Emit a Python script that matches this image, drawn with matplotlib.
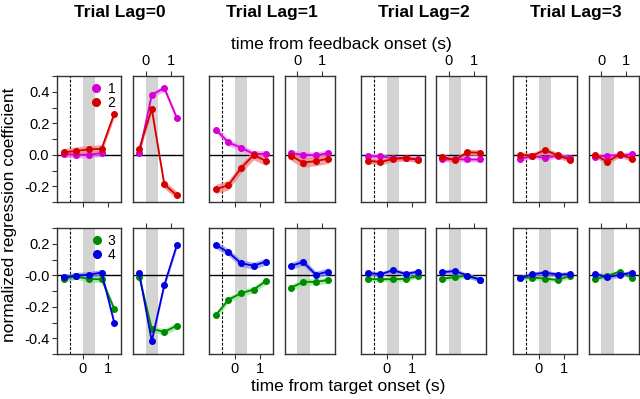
import numpy as np
import matplotlib
matplotlib.use("Agg")
import matplotlib.pyplot as plt
from matplotlib.lines import Line2D

plt.rcParams['font.family'] = ['Liberation Sans', 'DejaVu Sans']
plt.rcParams['axes.unicode_minus'] = False

nan = np.nan
lags = ["Trial Lag=0", "Trial Lag=1", "Trial Lag=2", "Trial Lag=3"]
t_target = [-0.75, -0.25, 0.25, 0.75, 1.25]
t_feedback = [-0.25, 0.25, 0.75, 1.25]

# target-locked coefficients, one list per trial lag
tgt_1 = [[0.005, 0.0, 0.0, 0.01, nan],
         [0.16, 0.078, 0.045, 0.005, 0.006],
         [-0.01, -0.01, -0.022, -0.02, -0.03],
         [-0.027, -0.008, -0.02, -0.006, -0.019]]
tgt_2 = [[0.015, 0.025, 0.034, 0.038, 0.26],
         [-0.218, -0.193, -0.085, -0.002, -0.04],
         [-0.038, -0.046, -0.027, -0.021, -0.032],
         [0.0, -0.006, 0.03, -0.004, -0.032]]
tgt_3 = [[-0.023, -0.006, -0.025, -0.025, -0.213],
         [-0.253, -0.156, -0.114, -0.091, -0.036],
         [-0.025, -0.025, -0.025, -0.023, -0.004],
         [-0.015, -0.015, -0.021, -0.03, -0.004]]
tgt_4 = [[-0.012, -0.002, 0.004, 0.017, -0.30],
         [0.192, 0.146, 0.076, 0.061, 0.087],
         [0.015, 0.006, 0.032, 0.008, 0.023],
         [-0.017, 0.006, 0.017, 0.004, 0.008]]

# feedback-locked coefficients
fb_1 = [[0.008, 0.38, 0.424, 0.234],
        [0.01, 0.0, -0.004, 0.01],
        [-0.03, -0.028, -0.03, -0.03],
        [-0.012, -0.006, -0.002, 0.002]]
fb_2 = [[0.038, 0.291, -0.188, -0.257],
        [-0.006, -0.05, -0.04, -0.025],
        [-0.013, -0.034, 0.015, 0.013],
        [0.0, -0.044, 0.002, -0.025]]
fb_3 = [[-0.008, -0.34, -0.36, -0.32],
        [-0.08, -0.042, -0.042, -0.03],
        [-0.023, -0.011, -0.004, -0.027],
        [-0.025, -0.004, 0.023, -0.017]]
fb_4 = [[0.013, -0.418, -0.063, 0.19],
        [0.059, 0.084, 0.004, 0.023],
        [0.019, 0.027, -0.002, -0.027],
        [0.008, -0.011, 0.002, 0.017]]

# standard-error half widths (per lag)
se_1 = [0.02, 0.02, 0.015, 0.015]
se_2 = [0.025, 0.03, 0.018, 0.018]
se_3 = [0.02, 0.02, 0.014, 0.014]
se_4 = [0.02, 0.022, 0.015, 0.015]

series_names = ["1", "2", "3", "4"]
line_colors = ["#d400d4", "#d40000", "#008a00", "#0000e0"]
band_colors = ["#f58cf5", "#f08080", "#8ce88c", "#8c8cf0"]

W, H = 640, 399
fig = plt.figure(figsize=(W / 100, H / 100), dpi=100)

def ax_at(left, top, width, height):
    return fig.add_axes([left / W, 1 - (top + height) / H, width / W, height / H])

tgt_left = [57, 209, 361, 513]
fb_left = [133, 284.5, 436, 588.5]
fb_w = 50
row_top = [76, 228]
ph = 126
rows = [
    dict(series=[0, 1], tgt=[tgt_1, tgt_2], fb=[fb_1, fb_2], se=[se_1, se_2],
         ylim=(-0.3, 0.5), yt=np.round(np.arange(-0.3, 0.51, 0.1), 1), ylab=[0.4, 0.2, 0.0, -0.2]),
    dict(series=[2, 3], tgt=[tgt_3, tgt_4], fb=[fb_3, fb_4], se=[se_3, se_4],
         ylim=(-0.5, 0.3), yt=np.round(np.arange(-0.5, 0.31, 0.1), 1), ylab=[0.2, 0.0, -0.2, -0.4]),
]

def style(ax, ylim, yt, ylab, show_y):
    ax.set_ylim(*ylim)
    ax.axhline(0, color="black", lw=1.0, zorder=2)
    ax.axvspan(0, 0.5, color="#d3d3d3", lw=0, zorder=0)
    for s in ax.spines.values():
        s.set_color("#333333")
        s.set_linewidth(1.0)
    ax.tick_params(length=3.5, width=0.8, labelsize=10.5, pad=2, color="#333333")
    if show_y:
        ax.set_yticks(yt)
        ax.set_yticklabels([f"{v:.1f}" if any(abs(v - l) < 1e-9 for l in ylab) else "" for v in yt])
    else:
        ax.set_yticks([])

for r, row in enumerate(rows):
    for k in range(4):
        # target-locked panel
        ax = ax_at(tgt_left[k], row_top[r], 64, ph)
        style(ax, row["ylim"], row["yt"], row["ylab"], k == 0)
        ax.set_xlim(-1.02, 1.52)
        ax.axvline(-0.5, color="black", lw=0.8, ls=(0, (2.5, 1.5)), zorder=1)
        ax.set_xticks([0, 1])
        if r == 0:
            ax.set_xticklabels([])
        for j, si in enumerate(row["series"]):
            y = np.array(row["tgt"][j][k], dtype=float)
            e = row["se"][j][k]
            ax.fill_between(t_target, y - e, y + e, color=band_colors[si], alpha=0.75, lw=0, zorder=3)
            ax.plot(t_target, y, color=line_colors[si], lw=1.3, marker="o", ms=4, zorder=4 + j)
        if k == 0:
            handles = [Line2D([], [], ls="none", marker="o", ms=5.5, color=line_colors[si]) for si in row["series"]]
            ax.legend(handles, [series_names[si] for si in row["series"]], loc="upper right",
                      frameon=False, fontsize=10, handlelength=0.6, handletextpad=0.5,
                      labelspacing=0.0, borderaxespad=0.2, borderpad=0.2)
        # feedback-locked panel
        ax = ax_at(fb_left[k], row_top[r], fb_w, ph)
        style(ax, row["ylim"], row["yt"], row["ylab"], False)
        ax.set_xlim(-0.5, 1.5)
        ax.xaxis.tick_top()
        ax.set_xticks([0, 1])
        if r == 1:
            ax.set_xticklabels([])
        for j, si in enumerate(row["series"]):
            y = np.array(row["fb"][j][k], dtype=float)
            e = row["se"][j][k]
            ax.fill_between(t_feedback, y - e, y + e, color=band_colors[si], alpha=0.75, lw=0, zorder=3)
            ax.plot(t_feedback, y, color=line_colors[si], lw=1.3, marker="o", ms=4, zorder=4 + j)

for k in range(4):
    cx = (tgt_left[k] + fb_left[k] + fb_w) / 2
    fig.text(cx / W, 1 - 13 / H, lags[k], ha="center", va="center", fontsize=12.5, fontweight="bold")

fig.text(341 / W, 1 - 44 / H, "time from feedback onset (s)", ha="center", va="center", fontsize=12.5)
fig.text(348 / W, 1 - 387 / H, "time from target onset (s)", ha="center", va="center", fontsize=12.5)
fig.text(10 / W, 1 - 215 / H, "normalized regression coefficient", ha="center", va="center",
         rotation=90, fontsize=12.5)

fig.savefig("out.png", dpi=100)
